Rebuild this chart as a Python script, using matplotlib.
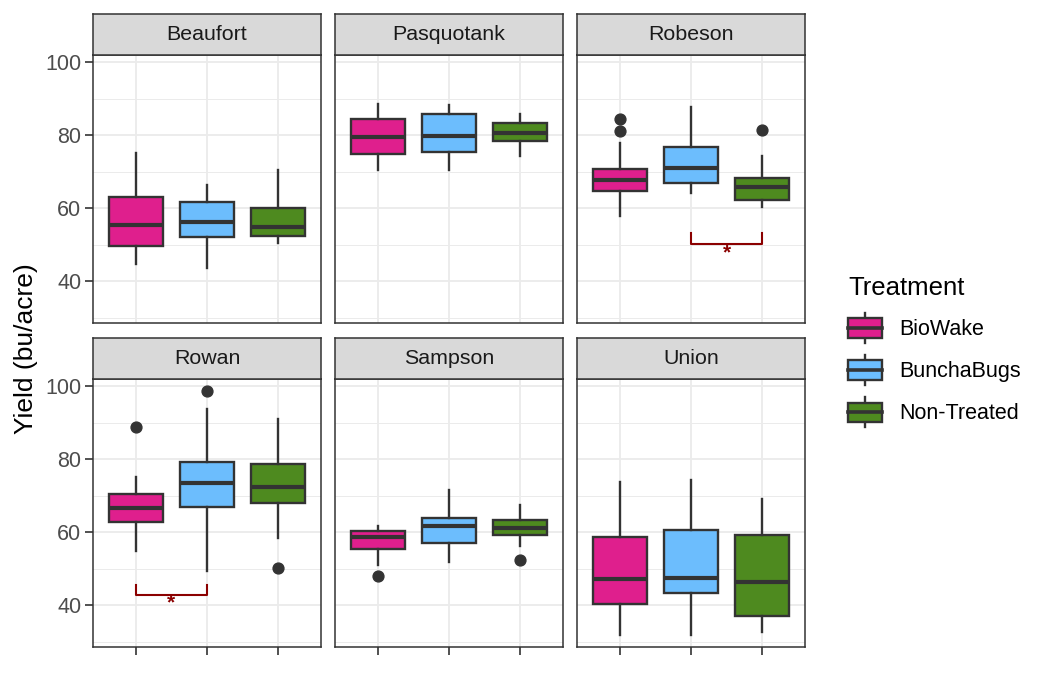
import matplotlib
matplotlib.use('Agg')
import matplotlib.pyplot as plt
from matplotlib.patches import Rectangle, Patch
from matplotlib.lines import Line2D
from matplotlib.legend_handler import HandlerBase

plt.rcParams['font.family'] = ['Liberation Sans', 'DejaVu Sans']

# datos
counties = ['Beaufort', 'Pasquotank', 'Robeson', 'Rowan', 'Sampson', 'Union']
treatments = ['BioWake', 'BunchaBugs', 'Non-Treated']
colors = ['#DF1F8D', '#6CBDFD', '#4E8A1F']

# cinco numeros por tratamiento: whislo, q1, med, q3, whishi
beaufort = [[44.6, 49.6, 55.3, 63.0, 75.1], [43.6, 52.1, 56.2, 61.6, 66.3], [50.4, 52.4, 54.9, 60.0, 70.4]]
pasquotank = [[70.4, 74.8, 79.5, 84.4, 88.5], [70.4, 75.4, 79.7, 85.9, 88.4], [74.2, 78.4, 80.5, 83.4, 85.8]]
robeson = [[57.9, 64.7, 67.7, 70.6, 77.8], [64.2, 66.9, 71.0, 76.7, 87.7], [60.2, 62.2, 65.8, 68.4, 74.2]]
rowan = [[54.8, 62.7, 66.6, 70.4, 75.0], [49.4, 67.0, 73.6, 79.3, 93.8], [58.3, 68.0, 72.4, 78.8, 90.9]]
sampson = [[50.9, 55.3, 58.7, 60.4, 61.8], [51.9, 57.1, 61.8, 63.8, 71.5], [56.2, 59.2, 61.0, 63.3, 67.4]]
union = [[31.7, 40.3, 47.2, 58.6, 73.7], [31.7, 43.3, 47.5, 60.7, 74.3], [32.5, 37.0, 46.3, 59.3, 69.0]]
summaries = [beaufort, pasquotank, robeson, rowan, sampson, union]

outliers = [
    [[], [], []],
    [[], [], []],
    [[84.4, 81.1], [], [81.4]],
    [[88.7], [98.7], [50.3]],
    [[48.0], [], [52.3]],
    [[], [], []],
]

# comparaciones significativas: condado, grupo a, grupo b, y barra, y extremos, y estrella
brackets = [
    ('Robeson', 2, 3, 50.1, 53.1, 47.6),
    ('Rowan', 1, 2, 42.7, 45.5, 40.5),
]

W, H = 1048, 700
fig = plt.figure(figsize=(W / 100, H / 100), dpi=100)

col_left = [93, 335, 577]
panel_w = 228
row_top = [55, 379]   # top of panel (below strip)
panel_h = 268
strip_h = 41

dark = '#333333'
lw_box = 1.7


class BoxKey(HandlerBase):
    def create_artists(self, legend, orig_handle, xdescent, ydescent,
                       width, height, fontsize, trans):
        x0, y0 = -xdescent, -ydescent
        fc = orig_handle.get_facecolor()
        b0 = y0 + 0.17 * height
        b1 = y0 + 0.83 * height
        xm = x0 + width / 2
        box = Rectangle((x0, b0), width, b1 - b0, facecolor=fc,
                        edgecolor=dark, lw=lw_box, transform=trans)
        med = Line2D([x0, x0 + width], [(b0 + b1) / 2] * 2, color=dark,
                     lw=2.6, transform=trans)
        w1 = Line2D([xm, xm], [y0, b0], color=dark, lw=lw_box, transform=trans)
        w2 = Line2D([xm, xm], [b1, y0 + height], color=dark, lw=lw_box, transform=trans)
        return [w1, w2, box, med]


for i, county in enumerate(counties):
    r, c = divmod(i, 3)
    left = col_left[c] / W
    bottom = (H - row_top[r] - panel_h) / H
    ax = fig.add_axes([left, bottom, panel_w / W, panel_h / H])
    sax = fig.add_axes([left, (H - row_top[r]) / H, panel_w / W, strip_h / H])

    stats = []
    for j in range(3):
        lo, q1, med, q3, hi = summaries[i][j]
        stats.append(dict(whislo=lo, q1=q1, med=med, q3=q3, whishi=hi,
                          fliers=outliers[i][j], label=treatments[j]))
    parts = ax.bxp(stats, positions=[1, 2, 3], widths=0.76, patch_artist=True,
                   showcaps=False,
                   boxprops=dict(edgecolor=dark, linewidth=lw_box),
                   medianprops=dict(color=dark, linewidth=3.0, solid_capstyle='butt'),
                   whiskerprops=dict(color=dark, linewidth=lw_box),
                   flierprops=dict(marker='o', markerfacecolor=dark,
                                   markeredgecolor=dark, markersize=7.8))
    for box, col in zip(parts['boxes'], colors):
        box.set_facecolor(col)

    for name, a, b, yb, yt, ys in brackets:
        if name == county:
            ax.plot([a, a, b, b], [yt, yb, yb, yt], color='#8B0000', lw=1.5)
            ax.text((a + b) / 2, ys, '*', color='#8B0000', fontsize=15,
                    fontweight='bold', ha='center', va='center')

    ax.set_xlim(0.4, 3.6)
    ax.set_ylim(28.5, 102)
    ax.set_xticks([1, 2, 3])
    ax.set_xticklabels(['', '', ''])
    ax.set_yticks([40, 60, 80, 100])
    ax.set_yticks([30, 50, 70, 90], minor=True)
    ax.set_axisbelow(True)
    ax.grid(which='major', color='#EBEBEB', linewidth=1.3)
    ax.grid(which='minor', color='#EBEBEB', linewidth=0.7)
    ax.tick_params(which='minor', length=0)
    ax.tick_params(axis='both', which='major', color=dark, width=1.2, length=5.5,
                   labelsize=15.5, labelcolor='#4D4D4D', pad=3)
    if c != 0:
        ax.tick_params(axis='y', length=0, labelleft=False)
    if r == 0:
        ax.tick_params(axis='x', length=0)
    for sp in ax.spines.values():
        sp.set_color(dark)
        sp.set_linewidth(1.1)

    sax.set_facecolor('#D9D9D9')
    sax.set_xticks([])
    sax.set_yticks([])
    for sp in sax.spines.values():
        sp.set_color(dark)
        sp.set_linewidth(1.1)
    sax.text(0.5, 0.5, county, ha='center', va='center', fontsize=15.4,
             color='#1A1A1A', transform=sax.transAxes)

fig.text(26 / W, 351 / H, 'Yield (bu/acre)', rotation=90, ha='center',
         va='center', fontsize=19)

handles = [Patch(facecolor=col) for col in colors]
leg = fig.legend(handles, treatments, handler_map={Patch: BoxKey()},
                 loc='upper left', bbox_to_anchor=(842 / W, (H - 270) / H),
                 frameon=False, title='Treatment', title_fontsize=18.5,
                 fontsize=15.5, handlelength=1.55, handleheight=1.75,
                 labelspacing=0.58, handletextpad=0.83, borderpad=0.3,
                 borderaxespad=0, alignment='left')

fig.savefig('out.png', dpi=100)
